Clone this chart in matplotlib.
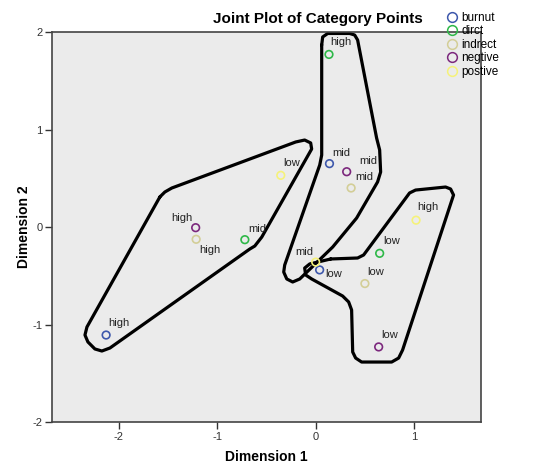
import matplotlib.pyplot as plt
from matplotlib.lines import Line2D

plt.rcParams["font.family"] = ["Liberation Sans", "DejaVu Sans"]
plt.rcParams["axes.unicode_minus"] = False

# category points (dimension 1, dimension 2)
variables = ["burnut", "dirct", "indrect", "negtive", "postive"]
levels = ["high", "mid", "low"]
dim1 = {
    "burnut": [-2.13, 0.14, 0.04],
    "dirct": [0.135, -0.72, 0.65],
    "indrect": [-1.215, 0.36, 0.50],
    "negtive": [-1.22, 0.315, 0.64],
    "postive": [1.02, 0.0, -0.355],
}
dim2 = {
    "burnut": [-1.108, 0.65, -0.44],
    "dirct": [1.77, -0.13, -0.27],
    "indrect": [-0.126, 0.40, -0.58],
    "negtive": [-0.007, 0.567, -1.23],
    "postive": [0.07, -0.36, 0.53],
}
colors = {
    "burnut": "#3E58AC",
    "dirct": "#2EB848",
    "indrect": "#D3CE97",
    "negtive": "#7C287D",
    "postive": "#F5F27A",
}

# label offsets in pixels (dx, dy), per variable and level
label_offsets = {
    "burnut": [(13, 12), (12, 11), (14, -4)],
    "dirct": [(12, 12), (12, 11), (12, 12)],
    "indrect": [(14, -11), (13, 11), (11, 12)],
    "negtive": [(-14, 10), (22, 11), (11, 12)],
    "postive": [(12, 13), (-11, 10), (11, 12)],
}

# hand-drawn group outlines (data coordinates)
outline_left_x = [-1.584, -1.533, -1.462, -0.203, -0.112, -0.051, -0.041, -0.548,
                  -0.619, -0.670, -2.091, -2.173, -2.244, -2.315, -2.345, -2.325]
outline_left_y = [0.308, 0.359, 0.400, 0.872, 0.892, 0.862, 0.800, -0.103,
                  -0.195, -0.226, -1.241, -1.272, -1.251, -1.179, -1.108, -1.026]
outline_mid_x = [0.061, 0.071, 0.122, 0.345, 0.396, 0.426, 0.619, 0.650, 0.660,
                 0.629, 0.416, 0.173, -0.162, -0.234, -0.294, -0.325, -0.315,
                 0.041, 0.061]
outline_mid_y = [1.867, 1.949, 1.985, 1.985, 1.969, 1.918, 0.913, 0.790, 0.564,
                 0.462, 0.092, -0.205, -0.533, -0.564, -0.533, -0.462, -0.390,
                 0.636, 0.738]
outline_right_x = [0.152, 0.426, 0.487, 0.954, 1.015, 1.320, 1.371, 1.401, 0.883,
                   0.843, 0.772, 0.467, 0.406, 0.376, 0.365, 0.335, 0.274,
                   -0.041, -0.102, -0.112, -0.061]
outline_right_y = [-0.328, -0.318, -0.287, 0.349, 0.379, 0.410, 0.390, 0.328,
                   -1.262, -1.344, -1.385, -1.385, -1.344, -1.282, -0.851, -0.769,
                   -0.708, -0.533, -0.492, -0.421, -0.379]

W, H = 533, 467
fig = plt.figure(figsize=(W / 100, H / 100), dpi=100)
ax = fig.add_axes([52 / W, 1 - 422 / H, 429 / W, 390 / H])
ax.set_facecolor("#EBEBEB")

for xs, ys in [(outline_left_x, outline_left_y),
               (outline_mid_x, outline_mid_y),
               (outline_right_x, outline_right_y)]:
    ax.plot(xs + xs[:1], ys + ys[:1], color="black", lw=2.3,
            solid_joinstyle="round", solid_capstyle="round", zorder=2)

for var in variables:
    ax.scatter(dim1[var], dim2[var], s=30, facecolors="none",
               edgecolors=colors[var], linewidths=1.2, zorder=3)
    for i, lev in enumerate(levels):
        dx, dy = label_offsets[var][i]
        ax.annotate(lev, (dim1[var][i], dim2[var][i]), xytext=(dx, dy),
                    textcoords="offset pixels", ha="center", va="center",
                    fontsize=8, color="#222222", zorder=4)

ax.set_xlim(-2.68, 1.68)
ax.set_ylim(-2, 2)
ax.set_xticks([-2, -1, 0, 1])
ax.set_yticks([-2, -1, 0, 1, 2])
ax.tick_params(direction="out", length=5, width=1, colors="#333333",
               labelsize=8, labelcolor="#333333", pad=2)
for sp in ax.spines.values():
    sp.set_color("#444444")
    sp.set_linewidth(1.2)

ax.set_xlabel("Dimension 1", fontsize=10, fontweight="bold", labelpad=6)
ax.set_ylabel("Dimension 2", fontsize=10, fontweight="bold", labelpad=1)
fig.text(318 / W, 1 - 19 / H, "Joint Plot of Category Points", ha="center",
         va="center", fontsize=11, fontweight="bold")

handles = [Line2D([], [], ls="none", marker="o", markersize=7,
                  markerfacecolor="none", markeredgecolor=colors[v],
                  markeredgewidth=1.1) for v in variables]
fig.legend(handles, variables, loc="upper left",
           bbox_to_anchor=(447 / W, 1 - 12 / H), frameon=False, fontsize=8.5,
           handlelength=0.9, handletextpad=0.3, labelspacing=0.12,
           borderpad=0, borderaxespad=0)

fig.savefig("out.png", dpi=100)
